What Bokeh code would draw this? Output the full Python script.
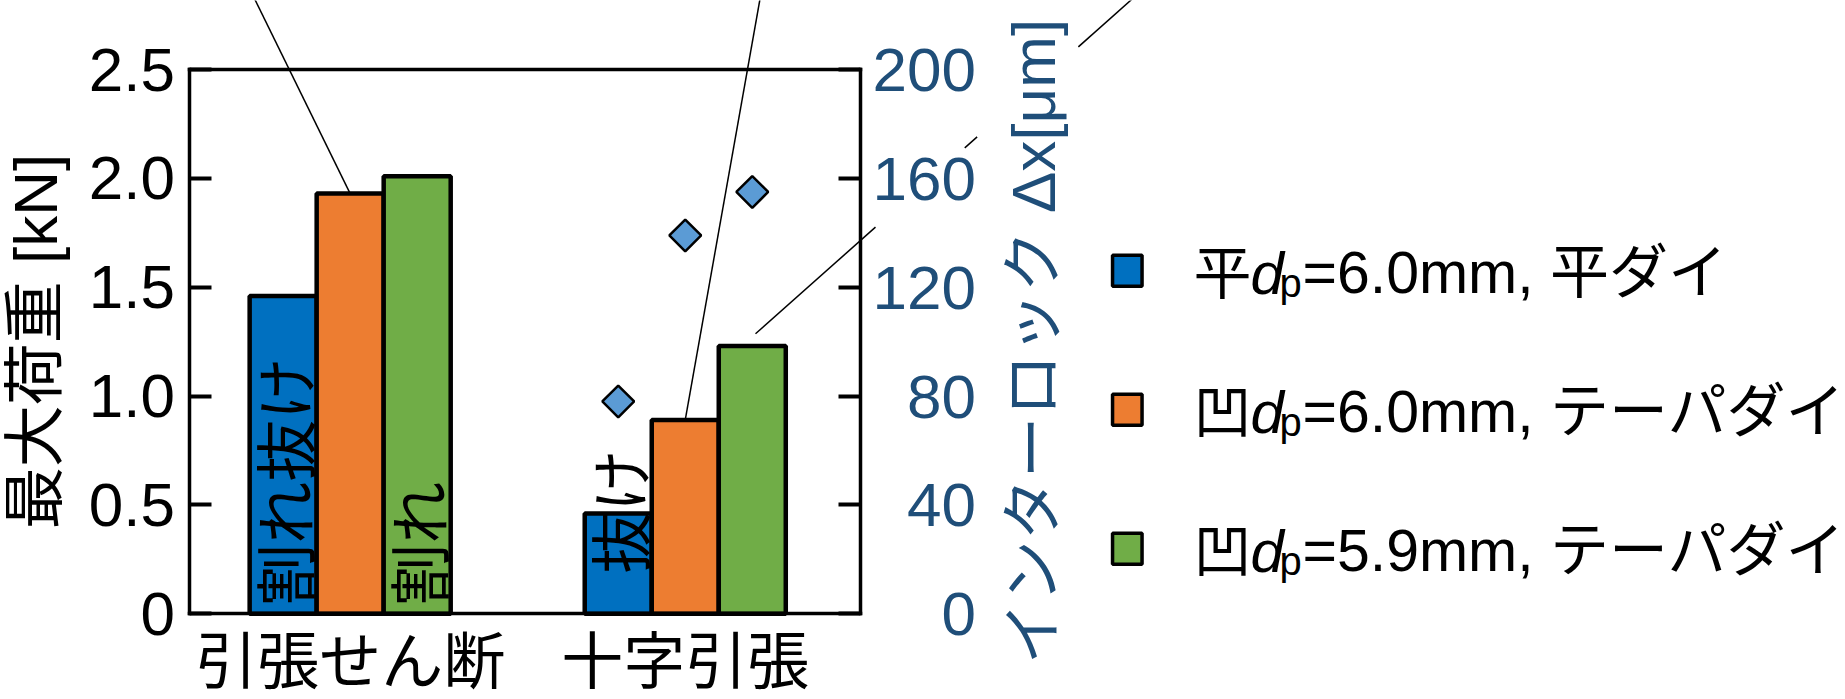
import math

from bokeh.plotting import figure
from bokeh.models import Range1d, LinearAxis, FixedTicker, Label
from bokeh.core.properties import value
from bokeh.embed import file_html
from bokeh.resources import INLINE

# ---- data ---------------------------------------------------------------
categories = ["引張せん断", "十字引張"]

series_prefix = ["平", "凹", "凹"]
series_dp = ["6.0", "6.0", "5.9"]
series_die = ["平ダイ", "テーパダイ", "テーパダイ"]
series_colors = ["#0070C0", "#ED7D31", "#70AD47"]

# maximum load [kN], one value per category
load_flat_60 = [1.46, 0.46]
load_concave_60 = [1.93, 0.89]
load_concave_59 = [2.01, 1.23]

# interlock Δx [μm], measured for the cross-tension specimens only
interlock_category = "十字引張"
interlock_dx = [78, 139, 155]

# failure mode written inside the bars
failure_notes = ["割れ抜け", "割れ", "抜け"]
failure_series = [0, 2, 0]
failure_category = ["引張せん断", "引張せん断", "十字引張"]

load_ticks = [0, 0.5, 1.0, 1.5, 2.0, 2.5]
load_tick_labels = ["0", "0.5", "1.0", "1.5", "2.0", "2.5"]
dx_ticks = [0, 40, 80, 120, 160, 200]

# ---- geometry -------------------------------------------------------------
W, H = 1845, 699
# the plot box inside the canvas (pixels) and the data values at its edges
PX_L, PX_R, PX_T, PX_B = 188.5, 860.0, 69.0, 613.2
X_L, X_R = 0.519, 2.523
Y_B, Y_T = 0.0, 2.5
DX_MAX = 200.0
kx = (PX_R - PX_L) / (X_R - X_L)
ky = (PX_B - PX_T) / (Y_T - Y_B)


def px_x(X):
    return X_L + (X - PX_L) / kx


def px_y(Y):
    return Y_B + (PX_B - Y) / ky


FONT = "Liberation Sans, Noto Sans CJK JP"
AXIS_BLUE = "#1F4E79"
BAR_W = 0.2
offsets = [-BAR_W, 0.0, BAR_W]
cat_pos = {c: i + 1 for i, c in enumerate(categories)}

# the frame spans the whole canvas; the box axes sit at fixed locations
p = figure(width=W, height=H, output_backend="svg", toolbar_location=None,
           x_range=Range1d(px_x(0), px_x(W)), y_range=Range1d(px_y(H), px_y(0)),
           x_axis_location=None, y_axis_location=None, min_border=0)
p.xgrid.visible = False
p.ygrid.visible = False
p.outline_line_color = None
p.background_fill_color = "white"
p.border_fill_color = "white"
dx_per_load = DX_MAX / Y_T
p.extra_y_ranges = {"dx": Range1d(px_y(H) * dx_per_load, px_y(0) * dx_per_load)}

# ---- bars -----------------------------------------------------------------
series_loads = [load_flat_60, load_concave_60, load_concave_59]
for loads, color, off in zip(series_loads, series_colors, offsets):
    xs = [cat_pos[c] + off for c in categories]
    p.vbar(x=xs, top=loads, width=BAR_W, fill_color=color,
           line_color="black", line_width=4.5)

# failure notes, rotated, starting near the bar base
note_x = [cat_pos[c] + offsets[s] for c, s in zip(failure_category, failure_series)]
note_lift = [8, 8, 40]
p.text(x=note_x, y=[0] * len(note_x), text=failure_notes,
       y_offset=[-v for v in note_lift], angle=math.pi / 2,
       text_align="left", text_baseline="middle",
       text_font=value("Noto Sans CJK JP"), text_font_size=value("62px"),
       text_color="black")

# interlock markers on the right axis
dx_x = [cat_pos[interlock_category] + off for off in offsets]
p.scatter(x=dx_x, y=interlock_dx, y_range_name="dx", marker="square",
          angle=math.pi / 4, size=22.5, fill_color="#5B9BD5",
          line_color="black", line_width=2.5)

# ---- leader lines to the callouts above the chart ---------------------------
lead_x0 = [cat_pos["引張せん断"], cat_pos["十字引張"]]
lead_y0 = [load_concave_60[0], load_concave_60[1]]
lead_x1 = [px_x(250), px_x(761)]
lead_y1 = [px_y(-10), px_y(-10)]
# this one passes behind the right-axis labels, so it is drawn in pieces
P0, P1 = (755, 333.3), (1130, 0)
for t0, t1 in [(0.0, 0.32), (0.558, 0.591), (0.861, 1.03)]:
    lead_x0.append(px_x(P0[0] + (P1[0] - P0[0]) * t0))
    lead_y0.append(px_y(P0[1] + (P1[1] - P0[1]) * t0))
    lead_x1.append(px_x(P0[0] + (P1[0] - P0[0]) * t1))
    lead_y1.append(px_y(P0[1] + (P1[1] - P0[1]) * t1))
p.segment(x0=lead_x0, y0=lead_y0, x1=lead_x1, y1=lead_y1,
          line_color="black", line_width=1.5)


# ---- axes -------------------------------------------------------------------
def style_axis(ax, color):
    ax.axis_line_color = "black"
    ax.axis_line_width = 3.5
    ax.axis_line_cap = "square"
    ax.major_tick_in = 22
    ax.major_tick_out = 0
    ax.major_tick_line_width = 4
    ax.major_tick_line_color = "black"
    ax.minor_tick_line_color = None
    ax.major_label_text_font = FONT
    ax.major_label_text_font_size = "62px"
    ax.major_label_text_color = color
    ax.axis_label_text_font = FONT
    ax.axis_label_text_font_size = "62px"
    ax.axis_label_text_font_style = "normal"
    ax.axis_label_text_color = color


xa = LinearAxis(fixed_location=Y_B, bounds=(X_L, X_R),
                ticker=FixedTicker(ticks=[cat_pos[c] for c in categories]),
                major_label_overrides={cat_pos[c]: c for c in categories})
style_axis(xa, "black")
xa.major_tick_line_color = None
xa.major_label_standoff = 14
p.add_layout(xa, "below")

top = LinearAxis(fixed_location=Y_T, bounds=(X_L, X_R), ticker=FixedTicker(ticks=[]))
style_axis(top, "black")
p.add_layout(top, "above")

ya = LinearAxis(fixed_location=X_L, bounds=(Y_B, Y_T),
                ticker=FixedTicker(ticks=load_ticks),
                major_label_overrides=dict(zip(load_ticks, load_tick_labels)),
                axis_label="最大荷重 [kN]")
style_axis(ya, "black")
ya.major_label_standoff = 14
ya.axis_label_standoff = 16
p.add_layout(ya, "left")

# right axis labels are right-aligned: pad with no-break spaces (two = one digit)
dx_labels = {t: "\u00a0\u00a0" * (3 - len(str(t))) + str(t) for t in dx_ticks}
ra = LinearAxis(y_range_name="dx", fixed_location=X_R, bounds=(0, DX_MAX),
                ticker=FixedTicker(ticks=dx_ticks), major_label_overrides=dx_labels)
style_axis(ra, AXIS_BLUE)
ra.major_label_standoff = 12
p.add_layout(ra, "right")

# right axis title, reading upward
p.add_layout(Label(x=px_x(1033), y=(Y_B + Y_T) / 2, text="インターロック Δx[μm]",
                   angle=math.pi / 2, text_align="center", text_baseline="middle",
                   text_font=FONT, text_font_size="62px", text_color=AXIS_BLUE))

# ---- legend (d italic, p subscript) -----------------------------------------
ROW0, ROW_STEP = 296.7, 139
TEXT_RAISE = 24
for i, (pre, dp, die, color) in enumerate(zip(series_prefix, series_dp,
                                              series_die, series_colors)):
    base = ROW0 + i * ROW_STEP
    p.rect(x=[px_x(1126.8)], y=[px_y(base - 26.5)], width=29.5, height=31,
           width_units="screen", height_units="screen",
           fill_color=color, line_color="black", line_width=3.5)
    tb = base - TEXT_RAISE
    pieces = [
        (1193, tb, pre, "normal", "58px"),
        (1250, tb, "d", "italic", "60px"),
        (1279, tb + 10, "p", "normal", "40px"),
        (1302, tb, "=" + dp + "mm, " + die, "normal", "59px"),
    ]
    for X, Y, txt, style, size in pieces:
        p.add_layout(Label(x=px_x(X), y=px_y(Y), text=txt, text_font=FONT,
                           text_font_style=style, text_font_size=size,
                           text_color="black", text_align="left",
                           text_baseline="alphabetic"))

open("out.html", "w").write(file_html(p, INLINE))
